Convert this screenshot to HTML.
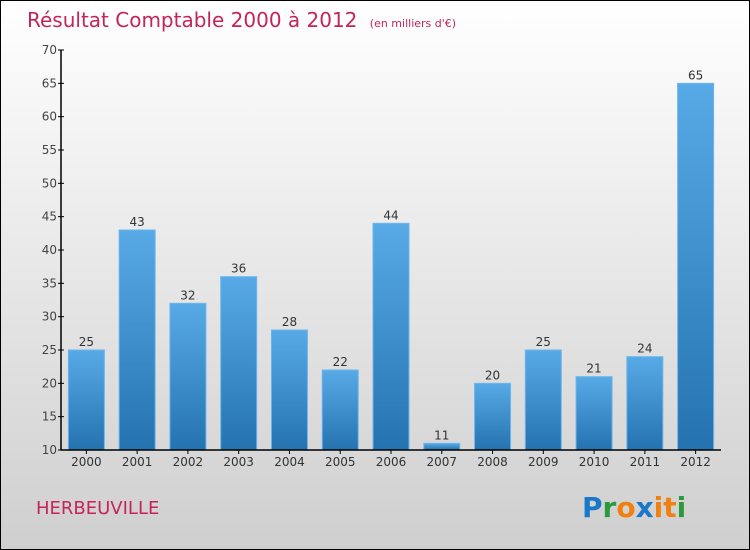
<!DOCTYPE html>
<html><head><meta charset="utf-8"><style>
body{margin:0}
svg{display:block;font-family:"DejaVu Sans","Liberation Sans",sans-serif}
</style></head><body>
<svg width="750" height="550">
<defs>
<linearGradient id="bg" x1="0" y1="0" x2="0" y2="1"><stop offset="0" stop-color="#ffffff"/><stop offset="1" stop-color="#cfcfcf"/></linearGradient>
<linearGradient id="bar" x1="0" y1="0" x2="0" y2="1"><stop offset="0" stop-color="#58aae6"/><stop offset="1" stop-color="#2473b0"/></linearGradient>
</defs>
<rect x="0.5" y="0.5" width="749" height="549" fill="url(#bg)" stroke="#000"/>
<text x="27" y="27" font-size="20" fill="#c4245a">Résultat Comptable 2000 à 2012 <tspan font-size="11" dx="6">(en milliers d'€)</tspan></text>
<g id="plot"></g>
<text x="36" y="514" font-size="18" fill="#c4245a">HERBEUVILLE</text>
<g font-size="28" font-family="'DejaVu Sans',sans-serif" font-weight="bold">
<text x="582" y="517" fill="#1a78c8">P<tspan fill="#2a9a3a">r</tspan><tspan fill="#f08010">o</tspan><tspan fill="#1a78c8">x</tspan><tspan fill="#f08010">i</tspan><tspan fill="#f08010">t</tspan><tspan fill="#2a9a3a">i</tspan></text>
</g>
</svg>
<script>
const categories=["2000","2001","2002","2003","2004","2005","2006","2007","2008","2009","2010","2011","2012"];
const values=[25,43,32,36,28,22,44,11,20,25,21,24,65];
const yTicks=[10,15,20,25,30,35,40,45,50,55,60,65,70];
const NS="http://www.w3.org/2000/svg";
const g=document.getElementById('plot');
const x0=61,x1=721,yTop=50,yBot=450,yMin=10,yMax=70;
const band=(x1-x0)/categories.length,bw=36;
const y=v=>yBot-(v-yMin)/(yMax-yMin)*(yBot-yTop);
function el(t,a){const e=document.createElementNS(NS,t);for(const k in a)e.setAttribute(k,a[k]);g.appendChild(e);return e;}
values.forEach((v,i)=>{
 const cx=x0+band*(i+0.5);
 const r=el('rect',{x:cx-bw/2,y:y(v),width:bw,height:yBot-y(v),fill:'url(#bar)',stroke:'#6bb6ec','stroke-width':1});
 
 
 const t=el('text',{x:cx,y:y(v)-4,'text-anchor':'middle','font-size':12,fill:'#333'});
 t.textContent=v;
 
 
 const l=el('text',{x:cx,y:yBot+16,'text-anchor':'middle','font-size':12,fill:'#333'});
 l.textContent=categories[i];
 
 
 const tk=el('line',{x1:cx,x2:cx,y1:yBot,y2:yBot+4,stroke:'#000'});
 
 
});
yTicks.forEach(v=>{
 const tk=el('line',{x1:x0-3,x2:x0+3,y1:y(v),y2:y(v),stroke:'#000'});
 
 
 const t=el('text',{x:x0-4,y:y(v)+4,'text-anchor':'end','font-size':12,fill:'#444'});
 t.textContent=v;
 
 
});
const ya=el('line',{x1:x0,x2:x0,y1:yTop,y2:yBot,stroke:'#000','stroke-width':1.5});


const xa=el('line',{x1:x0,x2:x1,y1:yBot,y2:yBot,stroke:'#000','stroke-width':1.5});


</script>
</body></html>
